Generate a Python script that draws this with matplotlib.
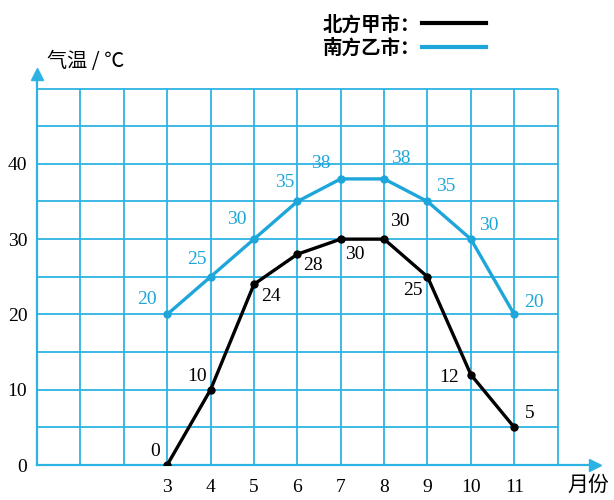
import matplotlib
matplotlib.use("Agg")
from matplotlib import pyplot as plt
from matplotlib.lines import Line2D

plt.rcParams['font.family'] = ['Noto Sans CJK SC', 'DejaVu Sans']

months = [3, 4, 5, 6, 7, 8, 9, 10, 11]
north = [0, 10, 24, 28, 30, 30, 25, 12, 5]
south = [20, 25, 30, 35, 38, 38, 35, 30, 20]
north_name = "北方甲市："
south_name = "南方乙市："
y_ticks = [0, 10, 20, 30, 40]

# label offsets in pixels (dx, dy)
north_off = [(-12, 13), (-14, 13), (17, -12), (16, -11), (14, -15), (16, 18), (-15, -14), (-22, -3), (15, 14)]
south_off = [(-20, 15), (-14, 17), (-17, 20), (-13, 19), (-20, 15), (17, 20), (18, 15), (18, 14), (20, 12)]

grid_c = "#2db3e3"
blue = "#1ea6da"
num_font = "Liberation Serif"

fig = plt.figure(figsize=(6.14, 5.0), dpi=100)
ax = fig.add_axes([0.0603, 0.07, 0.908, 0.783])
ax.set_xlim(0, 12.85)
ax.set_ylim(0, 52.0)

# grid limited to 0..12, 0..50
ax.vlines(range(1, 13), 0, 50, color=grid_c, lw=1.3, zorder=1)
ax.hlines(range(5, 55, 5), 0, 12, color=grid_c, lw=1.3, zorder=1)

for s in ["top", "right"]:
    ax.spines[s].set_visible(False)
for s in ["left", "bottom"]:
    ax.spines[s].set_color(grid_c)
    ax.spines[s].set_linewidth(1.6)
ax.plot(1, 0, ">", color=grid_c, ms=8, transform=ax.get_yaxis_transform(), clip_on=False)
ax.plot(0, 1, "^", color=grid_c, ms=8, transform=ax.get_xaxis_transform(), clip_on=False)

ax.plot(months, south, color=blue, lw=2.4, marker="o", ms=5, zorder=3)
ax.plot(months, north, color="black", lw=2.4, marker="o", ms=5, zorder=4)

for x, y, o in zip(months, north, north_off):
    ax.annotate(str(y), (x, y), xytext=o, textcoords="offset pixels", ha="center", va="center",
                fontsize=14, family=num_font, color="black", zorder=5)
for x, y, o in zip(months, south, south_off):
    ax.annotate(str(y), (x, y), xytext=o, textcoords="offset pixels", ha="center", va="center",
                fontsize=14, family=num_font, color=blue, zorder=5)

ax.set_xticks(months)
ax.set_xticklabels([str(m) for m in months], family=num_font, fontsize=14)
ax.set_yticks(y_ticks)
ax.set_yticklabels([str(v) for v in y_ticks], family=num_font, fontsize=14)
ax.tick_params(axis="x", length=0, pad=10)
ax.tick_params(axis="y", length=0, pad=7)

fig.text(0.0765, 0.876, "气温 / ℃", fontsize=14.5, va="center", ha="left")
fig.text(0.924, 0.03, "月份", fontsize=15, va="center", ha="left")

handles = [Line2D([], [], color="black", lw=3), Line2D([], [], color=blue, lw=3)]
fig.legend(handles, [north_name, south_name], loc="upper left", bbox_to_anchor=(0.497, 1.005),
           markerfirst=False, frameon=False, handlelength=3.3, handletextpad=0.1,
           labelspacing=0.2, prop={"family": ["Noto Sans CJK SC", "DejaVu Sans"], "size": 14, "weight": "bold"})

fig.savefig("out.png", dpi=100)
